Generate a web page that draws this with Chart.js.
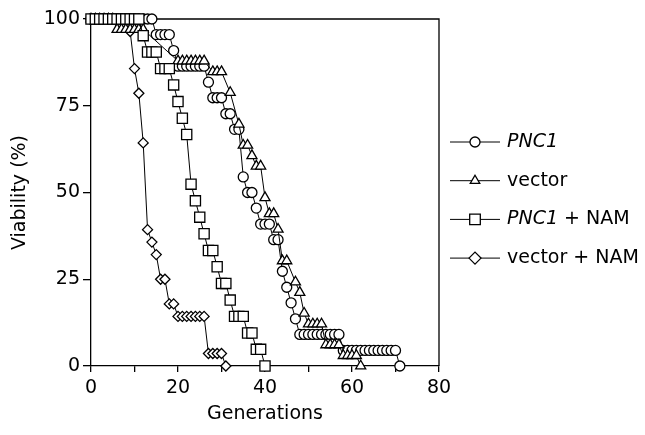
<!DOCTYPE html>
<html>
<head>
<meta charset="utf-8">
<script src="https://cdn.jsdelivr.net/npm/chart.js@4.4.1/dist/chart.umd.min.js"></script>
<style>
  html, body { margin: 0; padding: 0; background: #fff; }
</style>
</head>
<body>
<canvas id="chart-viability" width="645" height="435"></canvas>
<script>
// Replicative life span: viability (%) against generation, one pair of arrays per strain
var seriesNames = ['PNC1', 'vector', 'PNC1 + NAM', 'vector + NAM'];

var genPNC1 = [0, 1, 2, 3, 4, 5, 6, 7, 8, 9, 10, 11, 12, 13, 14, 15, 16, 17, 18, 19, 20, 21, 22, 23,
    24, 25, 26, 27, 28, 29, 30, 31, 32, 33, 34, 35, 36, 37, 38, 39, 40, 41, 42, 43, 44, 45, 46, 47,
    48, 49, 50, 51, 52, 53, 54, 55, 56, 57, 58, 59, 60, 61, 62, 63, 64, 65, 66, 67, 68, 69, 70, 71];
var viaPNC1 = [100, 100, 100, 100, 100, 100, 100, 100, 100, 100, 100, 100, 100, 100, 100,
    95.5, 95.5, 95.5, 95.5, 90.9, 86.4, 86.4, 86.4, 86.4, 86.4, 86.4, 86.4, 81.8, 77.3, 77.3, 77.3,
    72.7, 72.7, 68.2, 68.2, 54.5, 50, 50, 45.5, 40.9, 40.9, 40.9, 36.4, 36.4, 27.3, 22.7, 18.2, 13.6,
    9.1, 9.1, 9.1, 9.1, 9.1, 9.1, 9.1, 9.1, 9.1, 9.1,
    4.5, 4.5, 4.5, 4.5, 4.5, 4.5, 4.5, 4.5, 4.5, 4.5, 4.5, 4.5, 4.5, 0];

var genVector = [0, 1, 2, 3, 4, 5, 6, 7, 8, 9, 10, 11, 12, 20, 21, 22, 23, 24, 25, 26,
    28, 29, 30, 32, 34, 35, 36, 37, 38, 39, 40, 41, 42, 43, 44, 45, 47, 48, 49, 50, 51, 52, 53,
    54, 55, 56, 57, 58, 59, 60, 61, 62];
var viaVector = [100, 100, 100, 100, 100, 100, 97, 97, 97, 97, 97, 97, 97,
    87.9, 87.9, 87.9, 87.9, 87.9, 87.9, 87.9, 84.8, 84.8, 84.8, 78.8, 69.7, 63.6, 63.6, 60.6,
    57.6, 57.6, 48.5, 43.9, 43.9, 39.4, 30.3, 30.3, 24.2, 21.2, 15.2, 12.1, 12.1, 12.1, 12.1,
    6.1, 6.1, 6.1, 6.1, 3.0, 3.0, 3.0, 3.0, 0];

var genPNC1NAM = [0, 1, 2, 3, 4, 5, 6, 7, 8, 9, 10, 11, 12, 13, 14, 15, 16, 17, 18, 19, 20,
    21, 22, 23, 24, 25, 26, 27, 28, 29, 30, 31, 32, 33, 34, 35, 36, 37, 38, 39, 40];
var viaPNC1NAM = [100, 100, 100, 100, 100, 100, 100, 100, 100, 100, 100, 100, 95.2,
    90.5, 90.5, 90.5, 85.7, 85.7, 85.7, 81, 76.2, 71.4, 66.7, 52.4, 47.6, 42.9, 38.1,
    33.3, 33.3, 28.6, 23.8, 23.8, 19, 14.3, 14.3, 14.3, 9.5, 9.5, 4.8, 4.8, 0];

var genVectorNAM = [0, 1, 2, 3, 4, 5, 6, 7, 8, 9, 10, 11, 12, 13, 14, 15, 16, 17, 18, 19, 20,
    21, 22, 23, 24, 25, 26, 27, 28, 29, 30, 31];
var viaVectorNAM = [100, 100, 100, 100, 100, 100, 100, 100, 100, 96.4, 85.7, 78.6, 64.3,
    39.3, 35.7, 32.1, 25, 25, 17.9, 17.9, 14.3, 14.3, 14.3, 14.3, 14.3, 14.3, 14.3,
    3.6, 3.6, 3.6, 3.6, 0];

var xTicks = [0, 20, 40, 60, 80];
var yTicks = [0, 25, 50, 75, 100];

var FONT = "'DejaVu Sans', Verdana, sans-serif";

function pairUp(xs, ys) {
    return xs.map(function (x, i) { return { x: x, y: ys[i] }; });
}

function makeSeries(label, xs, ys, style, radius, order) {
    return {
        label: label,
        data: pairUp(xs, ys),
        borderColor: '#000',
        borderWidth: 1,
        tension: 0,
        fill: false,
        pointStyle: style,
        pointRadius: radius,
        pointBackgroundColor: '#fff',
        pointBorderColor: '#000',
        pointBorderWidth: 1.3,
        clip: false,
        order: order
    };
}

// Frame on top/right and the key on the right-hand side
var frameAndKey = {
    id: 'frameAndKey',
    beforeDatasetsDraw: function (chart) {
        var ctx = chart.ctx, a = chart.chartArea;
        ctx.save();
        ctx.strokeStyle = '#000';
        ctx.lineWidth = 1.3;
        ctx.beginPath();
        ctx.moveTo(a.left, a.top);
        ctx.lineTo(a.right, a.top);
        ctx.lineTo(a.right, a.bottom);
        ctx.stroke();
        ctx.restore();
    },
    afterDraw: function (chart) {
        var ctx = chart.ctx;
        var keyTop = 142, keyGap = 38.7, x0 = 450, x1 = 500, tx = 507;
        var keyRadius = { circle: 5, triangle: 5.5, rect: 7.5, rectRot: 6 };
        ctx.save();
        chart.data.datasets.forEach(function (ds, i) {
            var y = keyTop + i * keyGap;
            ctx.strokeStyle = '#000';
            ctx.lineWidth = 1;
            ctx.beginPath();
            ctx.moveTo(x0, y);
            ctx.lineTo(x1, y);
            ctx.stroke();
            ctx.fillStyle = '#fff';
            ctx.strokeStyle = '#000';
            ctx.lineWidth = 1.3;
            Chart.helpers.drawPoint(ctx, {
                pointStyle: ds.pointStyle,
                radius: keyRadius[ds.pointStyle],
                rotation: 0,
                borderWidth: 1.3
            }, (x0 + x1) / 2, y);

            // gene name in italics, the rest upright
            ctx.fillStyle = '#000';
            ctx.textBaseline = 'middle';
            ctx.textAlign = 'left';
            var x = tx;
            var label = ds.label;
            if (label.indexOf('PNC1') === 0) {
                ctx.font = 'italic 19px ' + FONT;
                ctx.fillText('PNC1', x, y);
                x += ctx.measureText('PNC1').width;
                label = label.slice(4);
            }
            ctx.font = '19px ' + FONT;
            ctx.fillText(label, x, y);
        });
        ctx.restore();
    }
};

var tickFont = { family: FONT, size: 19 };

new Chart(document.getElementById('chart-viability').getContext('2d'), {
    type: 'line',
    data: {
        datasets: [
            makeSeries(seriesNames[0], genPNC1, viaPNC1, 'circle', 5, 2),
            makeSeries(seriesNames[1], genVector, viaVector, 'triangle', 5.8, 1),
            makeSeries(seriesNames[2], genPNC1NAM, viaPNC1NAM, 'rect', 7.2, 0),
            makeSeries(seriesNames[3], genVectorNAM, viaVectorNAM, 'rectRot', 5, 3)
        ]
    },
    options: {
        responsive: false,
        animation: false,
        layout: { padding: { top: 19, right: 206, left: 0, bottom: 0 } },
        plugins: {
            legend: { display: false },
            tooltip: { enabled: false }
        },
        scales: {
            x: {
                type: 'linear',
                min: 0,
                max: 80,
                border: { display: true, color: '#000', width: 1.3 },
                grid: { drawOnChartArea: false, drawTicks: true, tickLength: 6, color: '#000', lineWidth: 1.3 },
                ticks: {
                    stepSize: 10,
                    autoSkip: false,
                    maxRotation: 0,
                    padding: 5,
                    color: '#000',
                    font: tickFont,
                    callback: function (v) { return xTicks.indexOf(v) >= 0 ? String(v) : ''; }
                },
                title: {
                    display: true,
                    text: 'Generations',
                    color: '#000',
                    font: tickFont,
                    padding: { top: 0, bottom: 10 }
                },
                afterFit: function (scale) { scale.height = 69; }
            },
            y: {
                min: 0,
                max: 100,
                border: { display: true, color: '#000', width: 1.3 },
                grid: { drawOnChartArea: false, drawTicks: true, tickLength: 8, color: '#000', lineWidth: 1.3 },
                ticks: {
                    stepSize: 25,
                    padding: 3,
                    color: '#000',
                    font: tickFont,
                    callback: function (v) { return yTicks.indexOf(v) >= 0 ? String(v) : ''; }
                },
                title: {
                    display: true,
                    text: 'Viability (%)',
                    color: '#000',
                    font: tickFont,
                    padding: { top: 9, bottom: 0 }
                },
                afterFit: function (scale) { scale.width = 91; }
            }
        }
    },
    plugins: [frameAndKey]
});
</script>
</body>
</html>
